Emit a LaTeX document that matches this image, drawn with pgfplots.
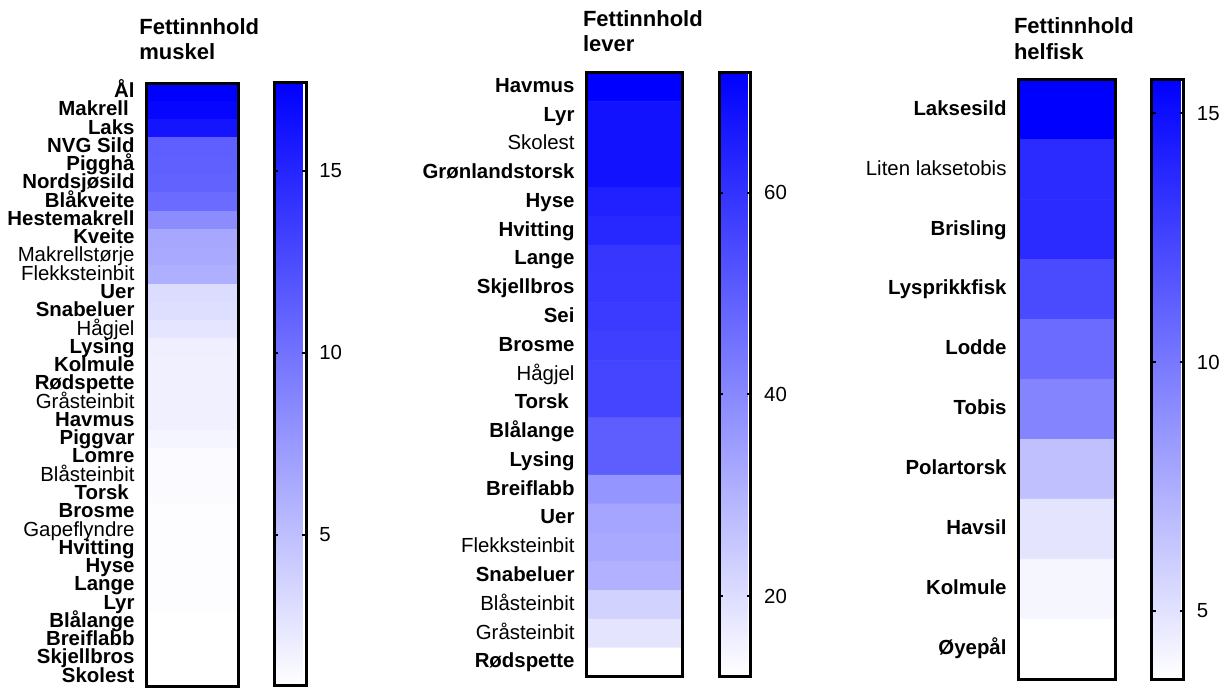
\documentclass[border=0pt]{standalone}
\usepackage{fontspec}
\setmainfont{Liberation Sans}
\usepackage{pgfplots}
\usepackage{pgfplotstable}
\pgfplotsset{compat=1.18}

\newcommand\lbl{\fontsize{10.2}{12}\selectfont}
\newcommand\ttl{\fontsize{11}{13}\selectfont\bfseries}
\newcommand\B[1]{\textbf{#1}}

\pgfplotstableread{
x y c
0 0 17.41
1 0 17.41
0 1 16.9
1 1 16.9
0 2 16.0
1 2 16.0
0 3 11.2
1 3 11.2
0 4 11.1
1 4 11.1
0 5 11.0
1 5 11.0
0 6 10.4
1 6 10.4
0 7 8.3
1 7 8.3
0 8 6.5
1 8 6.5
0 9 6.4
1 9 6.4
0 10 6.0
1 10 6.0
0 11 3.1
1 11 3.1
0 12 3.0
1 12 3.0
0 13 2.5
1 13 2.5
0 14 1.9
1 14 1.9
0 15 1.85
1 15 1.85
0 16 1.85
1 16 1.85
0 17 1.85
1 17 1.85
0 18 1.8
1 18 1.8
0 19 1.5
1 19 1.5
0 20 1.18
1 20 1.18
0 21 1.18
1 21 1.18
0 22 1.18
1 22 1.18
0 23 0.98
1 23 0.98
0 24 0.98
1 24 0.98
0 25 0.98
1 25 0.98
0 26 0.98
1 26 0.98
0 27 0.98
1 27 0.98
0 28 0.98
1 28 0.98
0 29 0.855
1 29 0.855
0 30 0.855
1 30 0.855
0 31 0.855
1 31 0.855
0 32 0.855
1 32 0.855
}\muskel

\pgfplotstableread{
x y c
0 0 71.9
1 0 71.9
0 1 67.2
1 1 67.2
0 2 67.2
1 2 67.2
0 3 67.2
1 3 67.2
0 4 63.7
1 4 63.7
0 5 62.5
1 5 62.5
0 6 59.0
1 6 59.0
0 7 58.6
1 7 58.6
0 8 57.8
1 8 57.8
0 9 56.7
1 9 56.7
0 10 55.5
1 10 55.5
0 11 55.5
1 11 55.5
0 12 49.6
1 12 49.6
0 13 49.6
1 13 49.6
0 14 36.7
1 14 36.7
0 15 33.1
1 15 33.1
0 16 32.0
1 16 32.0
0 17 30.1
1 17 30.1
0 18 22.6
1 18 22.6
0 19 18.3
1 19 18.3
0 20 12.0
1 20 12.0
}\lever

\pgfplotstableread{
x y c
0 0 15.67
1 0 15.67
0 1 13.55
1 1 13.55
0 2 13.55
1 2 13.55
0 3 12.13
1 3 12.13
0 4 10.57
1 4 10.57
0 5 9.39
1 5 9.39
0 6 6.6
1 6 6.6
0 7 4.9
1 7 4.9
0 8 4.05
1 8 4.05
0 9 3.63
1 9 3.63
}\helfisk

\pgfplotsset{
  colormap={wb}{rgb255=(255,255,255) rgb255=(0,0,255)},
  cbticks/.style={
    ytick={#1},
    after end axis/.append code={
      \foreach \t in {#1}{
        \draw[line width=1pt, black] ({rel axis cs:1,0} |- {axis cs:0,\t}) -- ++(-1.8pt,0pt);
        \draw[line width=1pt, black] ({rel axis cs:0,0} |- {axis cs:0,\t}) -- ++(1.8pt,0pt);
      }
    },
  },
  hm/.style={
    scale only axis, anchor=north west,
    xmin=-0.5, xmax=0.5, y dir=reverse,
    enlargelimits=false, axis on top,
    xtick=\empty,
    major tick length=0pt,
    axis line style={line width=1.5pt, black},
    yticklabel style={font=\lbl, anchor=base east, inner sep=0pt, xshift=-5.8pt, yshift=-2.7pt},
    colormap name=wb,
    colorbar,
    colorbar shift/.style={xshift=18.2pt},
    colorbar style={
      at={(parent axis.north east)}, anchor=north west,
      width=15.8pt, scale only axis,
      axis line style={line width=1.5pt, black},
      tick pos=both, yticklabel pos=right,
      tick align=inside, major tick length=1.8pt,
      ytick style={line width=1pt, black},
      /pgf/number format/assume math mode=true,
      yticklabel style={font=\lbl, anchor=west, inner sep=0pt, xshift=6.5pt},
    },
  },
}

\begin{document}
\begin{tikzpicture}
\useasboundingbox (0,0) rectangle (615.5pt,-344pt);
\node[anchor=base west, inner sep=0pt] at (69.5pt,-17.5pt) {\ttl Fettinnhold};
\node[anchor=base west, inner sep=0pt] at (69.5pt,-30pt) {\ttl muskel};
\node[anchor=base west, inner sep=0pt] at (291.3pt,-13.35pt) {\ttl Fettinnhold};
\node[anchor=base west, inner sep=0pt] at (291.3pt,-25.85pt) {\ttl lever};
\node[anchor=base west, inner sep=0pt] at (506.8pt,-16.65pt) {\ttl Fettinnhold};
\node[anchor=base west, inner sep=0pt] at (506.8pt,-29.65pt) {\ttl helfisk};

\begin{axis}[hm, at={(73.25pt,-41.5pt)}, width=45.75pt, height=301.5pt,
  ymin=-0.5, ymax=32.5, ytick={0,...,32},
  yticklabels={\B{Ål},\B{Makrell\kern0.28em},\B{Laks},\B{NVG Sild},\B{Pigghå},\B{Nordsjøsild},\B{Blåkveite},\B{Hestemakrell},\B{Kveite},Makrellstørje,Flekksteinbit,\B{Uer},\B{Snabeluer},Hågjel,\B{Lysing},\B{Kolmule},\B{Rødspette},Gråsteinbit,\B{Havmus},\B{Piggvar},\B{Lomre},Blåsteinbit,\B{Torsk\kern0.28em},\B{Brosme},Gapeflyndre,\B{Hvitting},\B{Hyse},\B{Lange},\B{Lyr},\B{Blålange},\B{Breiflabb},\B{Skjellbros},\B{Skolest}},
  point meta min=0.855, point meta max=17.41,
  colorbar style={cbticks={5,10,15}}]
\addplot[matrix plot, mesh/cols=2, point meta=explicit] table[x=x, y=y, meta=c] {\muskel};
\end{axis}

\begin{axis}[hm, at={(293.25pt,-36.25pt)}, width=48.15pt, height=302.15pt,
  ymin=-0.5, ymax=20.5, ytick={0,...,20},
  yticklabels={\B{Havmus},\B{Lyr},Skolest,\B{Grønlandstorsk},\B{Hyse},\B{Hvitting},\B{Lange},\B{Skjellbros},\B{Sei},\B{Brosme},Hågjel,\B{Torsk\kern0.28em},\B{Blålange},\B{Lysing},\B{Breiflabb},\B{Uer},Flekksteinbit,\B{Snabeluer},Blåsteinbit,Gråsteinbit,\B{Rødspette}},
  point meta min=11.99, point meta max=71.92,
  colorbar style={cbticks={20,40,60}}]
\addplot[matrix plot, mesh/cols=2, point meta=explicit] table[x=x, y=y, meta=c] {\lever};
\end{axis}

\begin{axis}[hm, at={(509.25pt,-39.9pt)}, width=48.5pt, height=299.7pt,
  ymin=-0.5, ymax=9.5, ytick={0,...,9},
  yticklabels={\B{Laksesild},Liten laksetobis,\B{Brisling},\B{Lysprikkfisk},\B{Lodde},\B{Tobis},\B{Polartorsk},\B{Havsil},\B{Kolmule},\B{Øyepål}},
  point meta min=3.63, point meta max=15.67,
  colorbar style={cbticks={5,10,15}}]
\addplot[matrix plot, mesh/cols=2, point meta=explicit] table[x=x, y=y, meta=c] {\helfisk};
\end{axis}
\end{tikzpicture}
\end{document}
